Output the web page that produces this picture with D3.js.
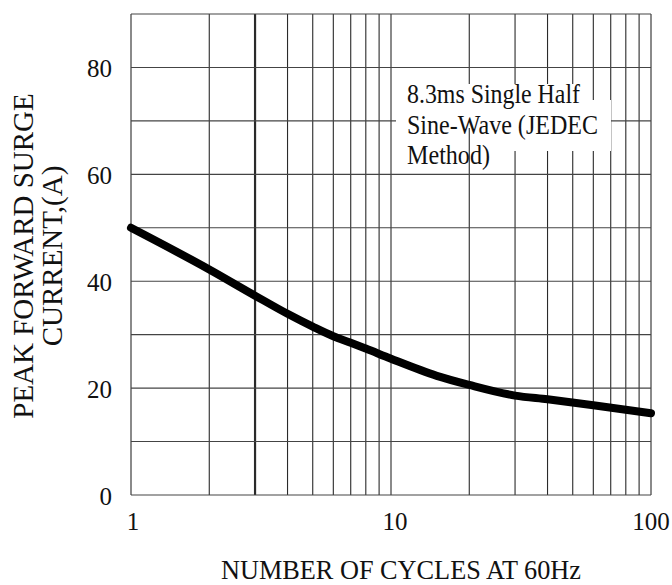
<!DOCTYPE html>
<html>
<head>
<meta charset="utf-8">
<script src="https://cdn.jsdelivr.net/npm/d3@7"></script>
<style>
  body { margin: 0; background: #fff; }
  text { font-family: "Liberation Serif", "Times New Roman", serif; fill: #111; }
</style>
</head>
<body>
<svg></svg>
<script>
// curve
const cycles = [1, 2, 3, 4, 5, 6, 7, 8, 10, 15, 20, 30, 40, 60, 100];
const current = [50, 42.2, 37.3, 33.9, 31.5, 29.7, 28.5, 27.4, 25.5, 22.3, 20.6, 18.6, 17.9, 16.8, 15.3];

const xTicks = [1, 10, 100];
const yTicks = [0, 20, 40, 60, 80];
const noteLines = ['8.3ms Single Half', 'Sine-Wave (JEDEC', 'Method)'];

const margin = {t: 14, r: 21, b: 90, l: 131};
const size = {w: 672, h: 585};
const svg = d3.select('svg')
    .attr('width', size.w)
    .attr('height', size.h);

svg.append('rect').attr('width', size.w).attr('height', size.h).attr('fill', '#fff');

const x = d3.scaleLog()
    .domain([1, 100])
    .range([margin.l, size.w - margin.r]);
const y = d3.scaleLinear()
    .domain([0, 90])
    .range([size.h - margin.b, margin.t]);

// grid
const grid = svg.append('g').attr('stroke', '#2a2a2a');
grid.selectAll('line.v')
    .data(x.ticks())
    .enter()
    .append('line')
    .attr('x1', d => x(d)).attr('x2', d => x(d))
    .attr('y1', y(0)).attr('y2', y(90))
    .attr('stroke-width', d => d === 3 ? 2.2 : 1.1);
grid.selectAll('line.h')
    .data(d3.range(0, 91, 10))
    .enter()
    .append('line')
    .attr('y1', d => y(d)).attr('y2', d => y(d))
    .attr('x1', x(1)).attr('x2', x(100))
    .attr('stroke', '#444')
    .attr('stroke-width', 1.1);

// white patches behind the note
const patches = [
    [396, 84, 590, 100],
    [396, 100, 611, 128],
    [470, 128, 611, 151],
    [396, 128, 466, 151]
];
svg.append('g').selectAll('rect')
    .data(patches)
    .enter()
    .append('rect')
    .attr('x', d => d[0]).attr('y', d => d[1])
    .attr('width', d => d[2] - d[0]).attr('height', d => d[3] - d[1])
    .attr('fill', '#fff');

const noteWidths = [173, 191, 83];
svg.append('g').selectAll('text')
    .data(noteLines)
    .enter()
    .append('text')
    .attr('x', 407)
    .attr('y', (d, i) => 103 + i * 30.5)
    .attr('font-size', 27)
    .attr('textLength', (d, i) => noteWidths[i])
    .attr('lengthAdjust', 'spacingAndGlyphs')
    .text(d => d);

// curve
const line = d3.line()
    .x(d => x(d[0]))
    .y(d => y(d[1]))
    .curve(d3.curveMonotoneX);
svg.append('path')
    .datum(cycles.map((c, i) => [c, current[i]]))
    .attr('d', line)
    .attr('fill', 'none')
    .attr('stroke', '#000')
    .attr('stroke-width', 8)
    .attr('stroke-linecap', 'round')
    .attr('stroke-linejoin', 'round');

// tick labels
svg.append('g').selectAll('text')
    .data(yTicks)
    .enter()
    .append('text')
    .attr('x', 112)
    .attr('y', d => y(d) + 10)
    .attr('text-anchor', 'end')
    .attr('font-size', 25)
    .text(d => d);
svg.append('g').selectAll('text')
    .data(xTicks)
    .enter()
    .append('text')
    .attr('x', d => x(d) + (d === 1 ? 2 : d === 10 ? 4 : 0))
    .attr('y', 530)
    .attr('text-anchor', 'middle')
    .attr('font-size', 25)
    .text(d => d);

// axis titles
svg.append('text')
    .attr('x', 221)
    .attr('y', 579)
    .attr('font-size', 28)
    .attr('textLength', 360)
    .attr('lengthAdjust', 'spacingAndGlyphs')
    .text('NUMBER OF CYCLES AT 60Hz');

const yTitle = svg.append('text')
    .attr('transform', 'translate(0,' + 256 + ') rotate(-90)')
    .attr('text-anchor', 'middle')
    .attr('font-size', 29);
yTitle.append('tspan').attr('x', 0).attr('y', 33).text('PEAK FORWARD SURGE');
yTitle.append('tspan').attr('x', 0).attr('y', 62).text('CURRENT,(A)');
</script>
</body>
</html>
